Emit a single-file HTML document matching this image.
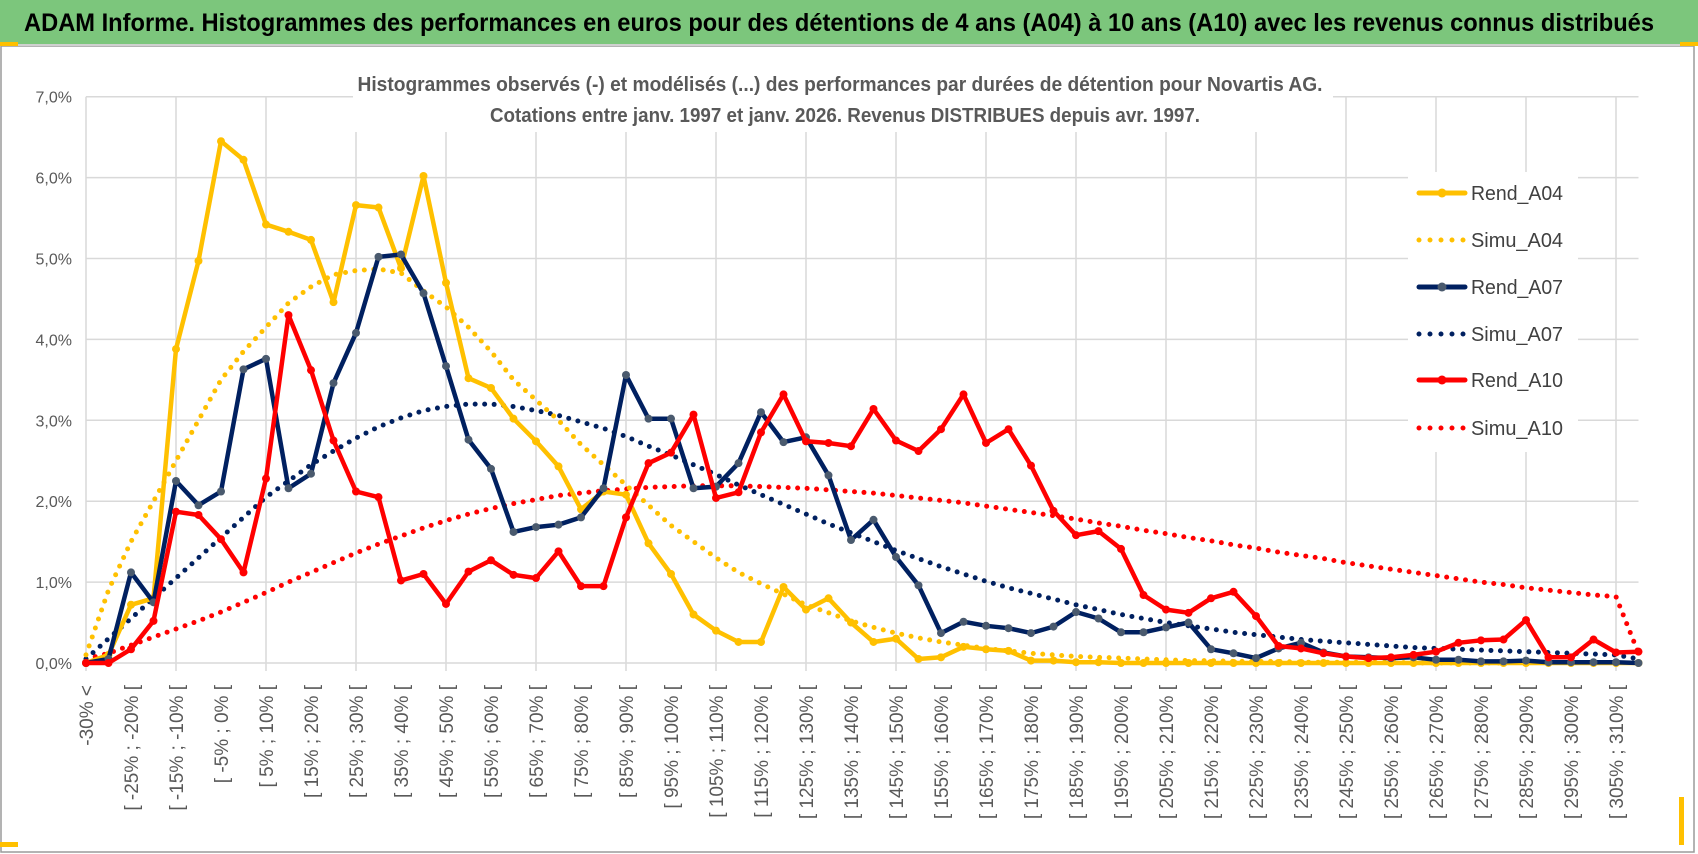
<!DOCTYPE html>
<html><head><meta charset="utf-8"><style>
html,body{margin:0;padding:0;background:#fff;}
svg{display:block;font-family:"Liberation Sans",sans-serif;}
</style></head><body>
<svg id="chart" width="1698" height="854" viewBox="0 0 1698 854">
<rect x="0" y="0" width="1698" height="854" fill="#fff"/>
<rect x="1" y="46" width="1693" height="806" fill="#fff" stroke="#9a9a9a" stroke-width="1.5"/>
<rect x="0" y="0" width="1698" height="44" fill="#7cc67c"/>
<line x1="0" y1="45" x2="1698" y2="45" stroke="#d0d0d0" stroke-width="2"/>
<rect x="0" y="42" width="18" height="4" fill="#ffc000"/>
<rect x="1680" y="42" width="18" height="4" fill="#ffc000"/>
<rect x="0" y="842" width="18" height="5" fill="#ffc000"/>
<rect x="1679" y="797" width="5" height="48" fill="#ffc000"/>
<text x="24" y="31" font-size="25" font-weight="bold" fill="#000" textLength="1630" lengthAdjust="spacingAndGlyphs">ADAM Informe. Histogrammes des performances en euros pour des détentions de 4 ans (A04) à 10 ans (A10) avec les revenus connus distribués</text>
<g id="grid"></g>
<rect x="353" y="66" width="980" height="66" fill="#fff"/>
<text x="840" y="91" font-size="20" font-weight="bold" fill="#595959" text-anchor="middle" textLength="965" lengthAdjust="spacingAndGlyphs">Histogrammes observés (-) et modélisés (...) des performances par durées de détention pour Novartis AG.</text>
<text x="845" y="122" font-size="20" font-weight="bold" fill="#595959" text-anchor="middle" textLength="710" lengthAdjust="spacingAndGlyphs">Cotations entre janv. 1997 et janv. 2026. Revenus DISTRIBUES depuis avr. 1997.</text>
<g id="yaxis"></g>
<g id="xaxis"></g>
<g id="series"></g>
<g id="legend"></g>
</svg>
<script>
const xLabels = ["-30% <","[ -25% ; -20% [","[ -15% ; -10% [","[ -5% ; 0% [","[ 5% ; 10% [","[ 15% ; 20% [","[ 25% ; 30% [","[ 35% ; 40% [","[ 45% ; 50% [","[ 55% ; 60% [","[ 65% ; 70% [","[ 75% ; 80% [","[ 85% ; 90% [","[ 95% ; 100% [","[ 105% ; 110% [","[ 115% ; 120% [","[ 125% ; 130% [","[ 135% ; 140% [","[ 145% ; 150% [","[ 155% ; 160% [","[ 165% ; 170% [","[ 175% ; 180% [","[ 185% ; 190% [","[ 195% ; 200% [","[ 205% ; 210% [","[ 215% ; 220% [","[ 225% ; 230% [","[ 235% ; 240% [","[ 245% ; 250% [","[ 255% ; 260% [","[ 265% ; 270% [","[ 275% ; 280% [","[ 285% ; 290% [","[ 295% ; 300% [","[ 305% ; 310% ["];
const yTicks = [0,1,2,3,4,5,6,7];
const yTickLabels = ["0,0%","1,0%","2,0%","3,0%","4,0%","5,0%","6,0%","7,0%"];
const rendA04 = [0,0.1,0.72,0.8,3.88,4.97,6.45,6.22,5.42,5.33,5.23,4.46,5.66,5.63,4.88,6.02,4.70,3.52,3.40,3.02,2.74,2.43,1.90,2.12,2.08,1.48,1.10,0.60,0.40,0.26,0.26,0.94,0.66,0.80,0.50,0.26,0.30,0.05,0.07,0.20,0.17,0.15,0.03,0.03,0.01,0.01,0,0,0,0,0,0,0,0,0,0,0,0,0,0,0,0,0,0,0,0,0,0,0,0];
const simuA04 = [0.1,0.9,1.5,2.0,2.5,3.0,3.5,3.85,4.15,4.45,4.65,4.8,4.85,4.87,4.82,4.6,4.4,4.15,3.85,3.5,3.25,3.0,2.7,2.45,2.2,1.95,1.7,1.5,1.3,1.12,0.98,0.85,0.72,0.62,0.52,0.44,0.37,0.31,0.26,0.22,0.18,0.15,0.12,0.10,0.08,0.07,0.06,0.05,0.04,0.03,0.03,0.02,0.02,0.02,0.01,0.01,0.01,0.01,0.01,0,0,0,0,0];
const rendA07 = [0,0.05,1.12,0.75,2.25,1.95,2.12,3.63,3.76,2.16,2.34,3.46,4.08,5.02,5.05,4.57,3.67,2.76,2.40,1.62,1.68,1.71,1.80,2.16,3.56,3.02,3.02,2.16,2.18,2.47,3.10,2.73,2.79,2.32,1.52,1.77,1.31,0.96,0.37,0.51,0.46,0.43,0.37,0.45,0.63,0.55,0.38,0.38,0.44,0.50,0.17,0.12,0.06,0.18,0.25,0.13,0.08,0.07,0.06,0.07,0.04,0.04,0.02,0.02,0.03,0.01,0.01,0.01,0.01,0];
const simuA07 = [0.05,0.3,0.55,0.8,1.05,1.3,1.55,1.8,2.05,2.25,2.45,2.62,2.78,2.92,3.03,3.12,3.17,3.2,3.2,3.17,3.12,3.06,2.98,2.9,2.8,2.68,2.57,2.45,2.33,2.2,2.08,1.96,1.84,1.72,1.61,1.5,1.39,1.29,1.19,1.1,1.01,0.93,0.86,0.79,0.72,0.66,0.6,0.55,0.5,0.46,0.42,0.38,0.35,0.32,0.29,0.27,0.25,0.23,0.21,0.19,0.18,0.17,0.16,0.15,0.14,0.13,0.12,0.11,0.10,0.05];
const rendA10 = [0,0,0.17,0.52,1.87,1.83,1.53,1.12,2.28,4.30,3.62,2.75,2.12,2.05,1.02,1.10,0.73,1.13,1.27,1.09,1.05,1.38,0.95,0.95,1.80,2.47,2.60,3.07,2.04,2.11,2.85,3.32,2.74,2.72,2.68,3.14,2.75,2.62,2.89,3.32,2.72,2.89,2.44,1.88,1.58,1.63,1.41,0.84,0.66,0.62,0.80,0.88,0.58,0.21,0.18,0.12,0.08,0.06,0.07,0.10,0.14,0.25,0.28,0.29,0.53,0.07,0.07,0.29,0.13,0.14];
const simuA10 = [0.05,0.12,0.22,0.32,0.42,0.52,0.63,0.75,0.87,1.0,1.12,1.24,1.36,1.47,1.57,1.67,1.76,1.84,1.91,1.97,2.02,2.07,2.10,2.13,2.15,2.17,2.18,2.19,2.19,2.19,2.18,2.17,2.16,2.14,2.12,2.10,2.07,2.04,2.01,1.98,1.94,1.90,1.86,1.82,1.78,1.73,1.69,1.64,1.60,1.55,1.51,1.46,1.42,1.37,1.33,1.29,1.24,1.20,1.16,1.12,1.08,1.04,1.00,0.97,0.93,0.90,0.87,0.84,0.82,0.12];
const seriesNames = ["Rend_A04","Simu_A04","Rend_A07","Simu_A07","Rend_A10","Simu_A10"];

const NS="http://www.w3.org/2000/svg";
const X0=86, STEP=22.5, Y0=663, YPX=80.9, NCAT=70;
function xs(i){return X0+i*STEP;}
function ys(v){return Y0-v*YPX;}
function mk(tag,attrs,parent){const e=document.createElementNS(NS,tag);for(const k in attrs)e.setAttribute(k,attrs[k]);parent.appendChild(e);return e;}

const grid=document.getElementById('grid');
yTicks.forEach(t=>{
  const l=mk('line',{x1:X0,x2:xs(NCAT-1),y1:ys(t),y2:ys(t),stroke:'#d9d9d9','stroke-width':1.5},grid);
  
  
});
for(let i=0;i<NCAT;i+=4){
  const l=mk('line',{x1:xs(i),x2:xs(i),y1:ys(7),y2:Y0+8,stroke:'#d9d9d9','stroke-width':1.5},grid);
  
  
}
const yax=document.getElementById('yaxis');
yTicks.forEach((t,k)=>{
  const tx=mk('text',{x:72,y:ys(t)+6,'font-size':16,fill:'#595959','text-anchor':'end'},yax);
  tx.textContent=yTickLabels[k];
  
  
});
const xax=document.getElementById('xaxis');
xLabels.forEach((s,k)=>{
  const x=xs(k*2)+7, y=685;
  const tx=mk('text',{x:x,y:y,'font-size':19,fill:'#595959','text-anchor':'end',transform:`rotate(-90 ${x} ${y})`},xax);
  tx.textContent=s;
  
  
});

const sg=document.getElementById('series');
function pts(arr){return arr.map((v,i)=>xs(i).toFixed(1)+','+ys(v).toFixed(1)).join(' ');}
function dotted(arr,color,name){
  const p=mk('polyline',{points:pts(arr),fill:'none',stroke:color,'stroke-width':5,'stroke-linecap':'round','stroke-dasharray':'0 9.5'},sg);
  
  
}
function solid(arr,color,mcolor,name){
  const g=mk('g',{},sg);
  
  
  mk('polyline',{points:pts(arr),fill:'none',stroke:color,'stroke-width':4.5,'stroke-linejoin':'round'},g);
  arr.forEach((v,i)=>{
    const c=mk('circle',{cx:xs(i),cy:ys(v),r:4,fill:mcolor},g);
    
    
  });
}
dotted(simuA10,'#ff0000','simu-a10-line');
dotted(simuA07,'#002060','simu-a07-line');
dotted(simuA04,'#ffc000','simu-a04-line');
solid(rendA04,'#ffc000','#ffc000','rend-a04-line');
solid(rendA07,'#002060','#4a5a6e','rend-a07-line');
solid(rendA10,'#ff0000','#ff0000','rend-a10-line');

const lg=document.getElementById('legend');
mk('rect',{x:1408,y:172,width:170,height:280,fill:'#fff'},lg);
const rowsY=[193,240,287,334,380,428];
const lcol=['#ffc000','#ffc000','#002060','#002060','#ff0000','#ff0000'];
const lmk=['#ffc000',null,'#4a5a6e',null,'#ff0000',null];
seriesNames.forEach((n,k)=>{
  const g=mk('g',{},lg);
  
  
  const y=rowsY[k];
  if(k%2===0){
    mk('line',{x1:1419,x2:1465,y1:y,y2:y,stroke:lcol[k],'stroke-width':5,'stroke-linecap':'round'},g);
    mk('circle',{cx:1442,cy:y,r:4.5,fill:lmk[k]},g);
  } else {
    mk('line',{x1:1419,x2:1466,y1:y,y2:y,stroke:lcol[k],'stroke-width':5,'stroke-linecap':'round','stroke-dasharray':'0 11'},g);
  }
  const t=mk('text',{x:1471,y:y+7,'font-size':20,fill:'#404040',textLength:92,lengthAdjust:'spacingAndGlyphs'},g);
  t.textContent=n;
});
</script>
</body></html>
